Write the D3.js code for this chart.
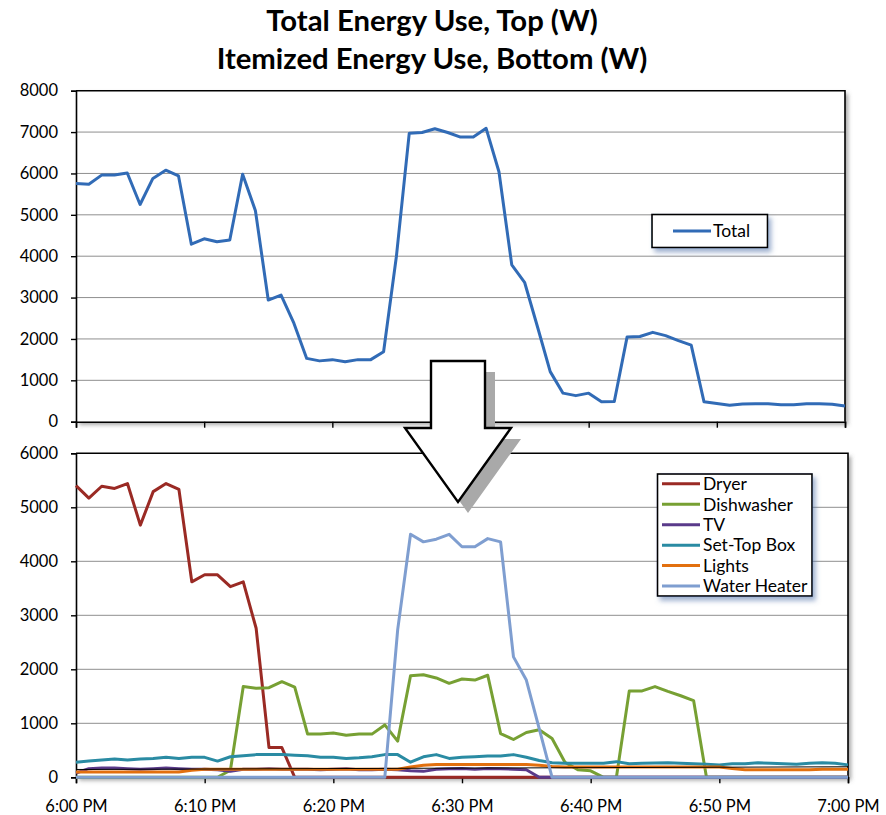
<!DOCTYPE html>
<html><head><meta charset="utf-8">
<script src="https://cdn.jsdelivr.net/npm/d3@7"></script>
<style>
body{margin:0;background:#fff}
svg{display:block}
text{font-family:Lato,"Open Sans",sans-serif;fill:#000}
</style>
</head><body>
<svg id="c" width="886" height="815"></svg>
<script>
// ---------------- data ----------------
const titleLines = ["Total Energy Use, Top (W)", "Itemized Energy Use, Bottom (W)"];
const startHour = 18;            // 6:00 PM
const minuteOffsets = d3.range(0, 61);  // one reading per minute, 6:00 PM .. 7:00 PM
const topYTicks = [0, 1000, 2000, 3000, 4000, 5000, 6000, 7000, 8000];
const bottomYTicks = [0, 1000, 2000, 3000, 4000, 5000, 6000];
const xTickMinutes = [0, 10, 20, 30, 40, 50, 60];

const total = [5760,5740,5960,5960,6010,5250,5880,6080,5940,4290,
               4420,4350,4390,5980,5100,2940,3060,2380,1530,1470,
               1500,1450,1500,1500,1690,4000,6970,6990,7080,6990,
               6880,6880,7090,6040,3790,3370,2300,1210,690,630,
               690,480,490,2050,2060,2160,2080,1960,1850,480,
               440,400,430,435,435,410,410,435,435,420,380];

const dryer = [5400,5170,5390,5350,5440,4670,5290,5440,5330,3620,
               3750,3750,3530,3620,2760,550,550,0,0,0,
               0,0,0,0,0,0,0,0,0,0,
               0,0,0,0,0,0,0,0,0,0,
               0,0,0,0,0,0,0,0,0,0,
               0,0,0,0,0,0,0,0,0,0,0];

const dishwasher = [0,0,0,0,0,0,0,0,0,0,
                    0,0,130,1680,1650,1660,1770,1670,800,800,
                    820,780,800,800,970,670,1880,1900,1840,1740,
                    1820,1800,1890,810,700,830,880,720,280,140,
                    120,0,0,1600,1600,1680,1590,1510,1420,0,
                    0,0,0,0,0,0,0,0,0,0,0];

const tv = [80,160,170,170,160,150,160,170,160,150,
            150,140,110,150,150,160,150,150,150,140,
            150,160,140,140,150,140,120,110,150,160,
            165,150,165,160,150,140,0,0,0,0,
            0,0,0,0,0,0,0,0,0,0,
            0,0,0,0,0,0,0,0,0,0,0];

const setTopBox = [280,300,320,340,320,340,350,370,350,370,
                   370,300,380,400,420,420,420,410,400,370,
                   370,350,360,380,420,420,280,380,420,350,
                   370,380,395,395,420,370,310,270,260,260,
                   260,260,290,250,260,265,270,260,250,240,
                   230,250,250,270,260,250,240,260,270,260,230];

const lights = [100,100,100,100,100,100,100,100,100,130,
                150,150,150,150,150,150,150,150,150,150,
                150,150,150,150,150,150,190,225,235,235,
                235,235,235,235,235,235,225,200,190,190,
                190,190,190,190,190,190,190,190,190,190,
                190,165,140,140,140,140,140,140,150,150,150];

const waterHeater = [0,0,0,0,0,0,0,0,0,0,
                     0,0,0,0,0,0,0,0,0,0,
                     0,0,0,0,0,2730,4500,4360,4410,4500,
                     4270,4270,4420,4360,2230,1800,900,0,0,0,
                     0,0,0,0,0,0,0,0,0,0,
                     0,0,0,0,0,0,0,0,0,0,0];

// thin black reference line across the bottom chart (start, end)
const refLineMinutes = [0, 60];
const refLineValues = [145, 195];

const seriesNames = ["Dryer", "Dishwasher", "TV", "Set-Top Box", "Lights", "Water Heater"];
const seriesValues = [dryer, dishwasher, tv, setTopBox, lights, waterHeater];
const seriesColors = ["#9a2a24", "#77a033", "#5a3a8a", "#2a8ba3", "#e2700f", "#7f9ed0"];
const totalName = "Total";
const totalColor = "#316bb6";

// ---------------- drawing ----------------
const svg = d3.select("#c");
const defs = svg.append("defs");
const sh = defs.append("filter").attr("id","plotShadow").attr("x","-5%").attr("y","-5%").attr("width","115%").attr("height","115%");
sh.append("feDropShadow").attr("dx",3).attr("dy",3).attr("stdDeviation",2.2).attr("flood-color","#555").attr("flood-opacity",0.55);
const lsh = defs.append("filter").attr("id","legShadow").attr("x","-20%").attr("y","-20%").attr("width","150%").attr("height","160%");
lsh.append("feDropShadow").attr("dx",3).attr("dy",4).attr("stdDeviation",2.5).attr("flood-color","#4f6fa8").attr("flood-opacity",0.55);

const toDate = m => new Date(2000, 0, 1, startHour, m);
const fmt = d3.timeFormat("%-I:%M %p");

// Title
const title = svg.append("g");
const t1 = title.append("text").attr("x",432).attr("y",31).attr("text-anchor","middle")
  .attr("font-weight","bold").attr("font-size",26).text(titleLines[0]);
const t2 = title.append("text").attr("x",432).attr("y",68.5).attr("text-anchor","middle")
  .attr("font-weight","bold").attr("font-size",26).text(titleLines[1]);
const w2 = t2.node().getComputedTextLength();
const fs = 26 * 431 / w2;
t1.attr("font-size", fs); t2.attr("font-size", fs);

function panel(cfg) {
  const x = d3.scaleTime().domain([toDate(0), toDate(60)]).range([cfg.x0, cfg.x1]);
  const y = d3.scaleLinear().domain([0, cfg.ymax]).range([cfg.y0, cfg.y1]);
  const g = svg.append("g");
  g.append("rect").attr("x",cfg.x0).attr("y",cfg.y1).attr("width",cfg.x1-cfg.x0).attr("height",cfg.y0-cfg.y1)
    .attr("fill","#fff").attr("filter","url(#plotShadow)");
  g.append("g").selectAll("line").data(cfg.yTicks.filter(v => v > 0 && v < cfg.ymax)).join("line")
    .attr("x1",cfg.x0).attr("x2",cfg.x1).attr("y1",d=>y(d)).attr("y2",d=>y(d))
    .attr("stroke","#8f8f8f").attr("stroke-width",1);
  g.append("path").attr("d",`M${cfg.x0},${cfg.y1}H${cfg.x1}V${cfg.y0}`)
    .attr("fill","none").attr("stroke","#000").attr("stroke-width",1.6);
  const ya = d3.axisLeft(y).tickValues(cfg.yTicks).tickSize(5).tickPadding(13).tickFormat(d3.format("d"));
  const yg = g.append("g").attr("transform",`translate(${cfg.x0},0)`).call(ya);
  yg.select(".domain").attr("stroke","#000").attr("stroke-width",1.6);
  yg.selectAll(".tick line").attr("stroke","#000").attr("stroke-width",1.4);
  yg.selectAll(".tick text").attr("font-size",16.5).attr("font-family","Lato, 'Open Sans', sans-serif").attr("fill","#000");
  const xa = d3.axisBottom(x).tickValues(xTickMinutes.map(toDate)).tickSize(6).tickPadding(17)
    .tickFormat(cfg.labels ? fmt : () => "");
  const xg = g.append("g").attr("transform",`translate(0,${cfg.y0})`).call(xa);
  xg.select(".domain").attr("stroke","#000").attr("stroke-width",1.6);
  xg.selectAll(".tick line").attr("stroke","#000").attr("stroke-width",1.4);
  xg.selectAll(".tick text").attr("font-size",16.5).attr("font-family","Lato, 'Open Sans', sans-serif").attr("fill","#000");
  return {x, y, g};
}

const topP = panel({x0:76, x1:845, y0:421.7, y1:90.7, ymax:8000, yTicks:topYTicks, labels:false});
const botP = panel({x0:76, x1:848, y0:777.3, y1:453.3, ymax:6000, yTicks:bottomYTicks, labels:true});

const lineTop = d3.line().x((d,i)=>topP.x(toDate(minuteOffsets[i]))).y(d=>topP.y(d));
topP.g.append("path").datum(total).attr("d",lineTop).attr("fill","none")
  .attr("stroke",totalColor).attr("stroke-width",3).attr("stroke-linejoin","round");

const lineBot = d3.line().x((d,i)=>botP.x(toDate(minuteOffsets[i]))).y(d=>botP.y(d));
seriesValues.forEach((vals, k) => {
  if (k === 5) {
    botP.g.append("path").datum(refLineValues)
      .attr("d", d3.line().x((d,i)=>botP.x(toDate(refLineMinutes[i]))).y(d=>botP.y(d)))
      .attr("fill","none").attr("stroke","#000").attr("stroke-width",1);
  }
  botP.g.append("path").datum(vals).attr("d",lineBot).attr("fill","none")
    .attr("stroke",seriesColors[k]).attr("stroke-width",3).attr("stroke-linejoin","round");
});

const lt = svg.append("g");
lt.append("rect").attr("x",652).attr("y",214.5).attr("width",115.5).attr("height",33)
  .attr("fill","#fff").attr("stroke","#000").attr("stroke-width",1.6).attr("filter","url(#legShadow)");
lt.append("line").attr("x1",673).attr("x2",711).attr("y1",231).attr("y2",231)
  .attr("stroke",totalColor).attr("stroke-width",3);
lt.append("text").attr("x",713).attr("y",231).attr("dy","0.36em").attr("font-size",17.5).text(totalName);

const lb = svg.append("g");
lb.append("rect").attr("x",657.5).attr("y",474).attr("width",154.5).attr("height",122)
  .attr("fill","#fff").attr("stroke","#000").attr("stroke-width",1.6).attr("filter","url(#legShadow)");
const rows = lb.selectAll("g.row").data(seriesNames).join("g").attr("class","row")
  .attr("transform",(d,i)=>`translate(0,${483.8 + i*20.45})`);
rows.append("line").attr("x1",662).attr("x2",700).attr("y1",0).attr("y2",0)
  .attr("stroke",(d,i)=>seriesColors[i]).attr("stroke-width",3);
rows.append("text").attr("x",703).attr("y",0).attr("dy","0.36em").attr("font-size",17.5).text(d=>d);

// Arrow (decoration)
const arrowPts = [[431,361],[485,361],[485,428],[511,428],[458,502],[405,428],[431,428]];
const arrowLine = d3.line();
svg.append("path").attr("d", arrowLine(arrowPts.map(p=>[p[0]+10,p[1]+11])) + "Z").attr("fill","#a9a9a9");
svg.append("path").attr("d", arrowLine(arrowPts) + "Z").attr("fill","#fff")
  .attr("stroke","#000").attr("stroke-width",2.4).attr("stroke-linejoin","miter");
</script>
</body></html>
